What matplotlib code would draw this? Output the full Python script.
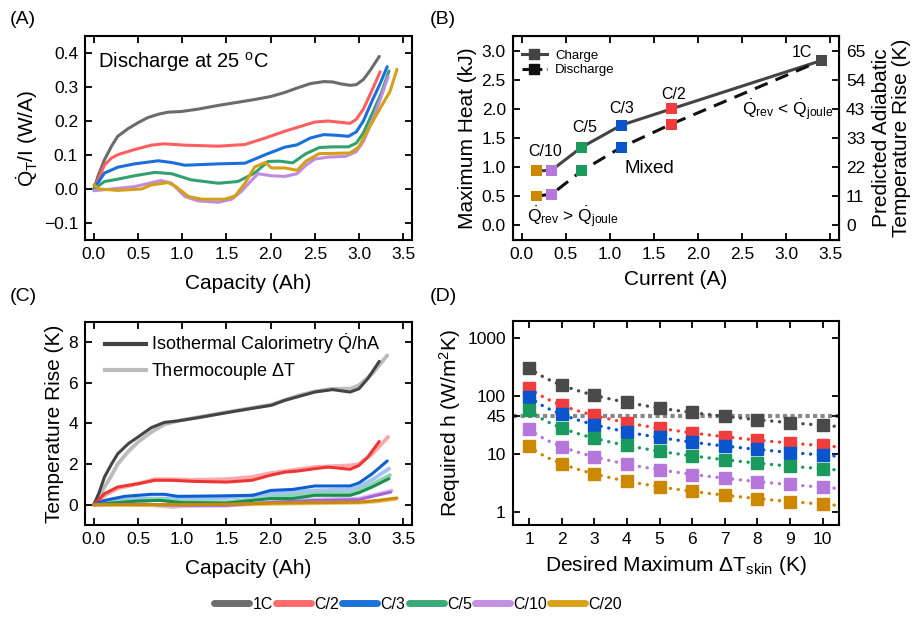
import numpy as np
import matplotlib
matplotlib.use("Agg")
import matplotlib.pyplot as plt
from matplotlib.lines import Line2D

plt.rcParams['font.family'] = ['Liberation Sans', 'DejaVu Sans']
plt.rcParams['mathtext.fontset'] = 'custom'
plt.rcParams['mathtext.rm'] = 'Liberation Sans'
plt.rcParams['mathtext.it'] = 'Liberation Sans:italic'
plt.rcParams['mathtext.bf'] = 'Liberation Sans:bold'
plt.rcParams['axes.unicode_minus'] = True

# ---------------- DATA ----------------
rates = ["1C", "C/2", "C/3", "C/5", "C/10", "C/20"]
legend_colors = ["#6e6e6e", "#ff6b6b", "#1a74d6", "#3aaa78", "#c391e0", "#daa21c"]
mark_colors = ["#4a4a4a", "#f03c3c", "#0a55cc", "#1a9a5c", "#b577dc", "#cc8800"]
lightA = ["#6b6b6b", "#ff5f5f", "#1a6fdb", "#33a070", "#c08be0", "#d4a017"]

# Panel A: Q_T/I vs capacity
a_1c_x = [0.0, 0.05, 0.12, 0.2, 0.27, 0.39, 0.5, 0.61, 0.73, 0.84, 0.99, 1.18, 1.41, 1.6, 1.79, 2.0, 2.16, 2.3, 2.45, 2.6, 2.7, 2.8, 2.9, 2.97, 3.05, 3.13, 3.23]
a_1c_y = [0.0, 0.04, 0.086, 0.126, 0.155, 0.178, 0.195, 0.21, 0.22, 0.226, 0.228, 0.235, 0.246, 0.254, 0.262, 0.272, 0.284, 0.297, 0.31, 0.316, 0.315, 0.309, 0.305, 0.307, 0.322, 0.35, 0.39]
a_c2_x = [0.02, 0.12, 0.2, 0.27, 0.46, 0.65, 0.8, 1.03, 1.41, 1.71, 1.94, 2.16, 2.35, 2.5, 2.65, 2.8, 2.9, 2.97, 3.05, 3.13, 3.24]
a_c2_y = [0.01, 0.071, 0.091, 0.101, 0.116, 0.129, 0.133, 0.129, 0.126, 0.131, 0.15, 0.17, 0.185, 0.197, 0.2, 0.196, 0.193, 0.205, 0.235, 0.28, 0.345]
a_c3_x = [0.0, 0.12, 0.27, 0.46, 0.73, 0.88, 1.03, 1.41, 1.71, 1.94, 2.16, 2.3, 2.45, 2.6, 2.75, 2.88, 2.97, 3.05, 3.15, 3.24, 3.32]
a_c3_y = [0.0, 0.047, 0.064, 0.074, 0.083, 0.078, 0.07, 0.074, 0.076, 0.101, 0.123, 0.13, 0.15, 0.16, 0.158, 0.155, 0.168, 0.2, 0.26, 0.31, 0.36]
a_c5_x = [0.0, 0.12, 0.27, 0.46, 0.69, 0.88, 1.1, 1.41, 1.63, 1.82, 1.97, 2.1, 2.25, 2.4, 2.55, 2.7, 2.88, 2.97, 3.05, 3.15, 3.25, 3.34]
a_c5_y = [0.0, 0.022, 0.029, 0.039, 0.049, 0.045, 0.027, 0.017, 0.022, 0.047, 0.081, 0.082, 0.077, 0.104, 0.122, 0.124, 0.124, 0.135, 0.165, 0.222, 0.28, 0.347]
a_c10_x = [0.0, 0.12, 0.46, 0.76, 0.88, 1.03, 1.18, 1.41, 1.56, 1.67, 1.79, 1.86, 2.01, 2.16, 2.3, 2.4, 2.5, 2.65, 2.85, 2.97, 3.05, 3.15, 3.25, 3.33]
a_c10_y = [-0.005, -0.002, 0.007, 0.025, 0.017, -0.022, -0.035, -0.039, -0.03, -0.007, 0.027, 0.045, 0.039, 0.037, 0.045, 0.07, 0.088, 0.094, 0.096, 0.11, 0.14, 0.2, 0.27, 0.331]
a_c20_x = [0.0, 0.06, 0.27, 0.54, 0.65, 0.84, 0.93, 1.07, 1.22, 1.48, 1.6, 1.71, 1.82, 1.94, 2.01, 2.16, 2.3, 2.4, 2.55, 2.9, 3.0, 3.1, 3.25, 3.35, 3.43]
a_c20_y = [0.012, 0.0, -0.004, 0.0, 0.012, 0.019, 0.007, -0.022, -0.03, -0.03, -0.02, 0.017, 0.065, 0.078, 0.062, 0.062, 0.055, 0.082, 0.104, 0.106, 0.124, 0.173, 0.242, 0.286, 0.352]

# Panel B: maximum heat vs current
b_current = [0.17, 0.34, 0.68, 1.13, 1.70, 3.40]
b_charge = [0.935, 0.947, 1.34, 1.72, 2.0, 2.83]
b_discharge = [0.505, 0.534, 0.935, 1.34, 1.74, 2.83]
b_labels = ["C/20", "C/10", "C/5", "C/3", "C/2", "1C"]
b_right_ticks = ["0", "11", "22", "33", "43", "54", "65"]

# Panel C: temperature rise vs capacity (calorimetry, thermocouple)
c_1c_x = [0.0, 0.06, 0.12, 0.2, 0.27, 0.39, 0.5, 0.65, 0.8, 0.95, 1.18, 1.6, 2.01, 2.16, 2.3, 2.5, 2.7, 2.9, 3.0, 3.1, 3.23]
c_1c_cal = [0.0, 0.6, 1.36, 2.0, 2.5, 3.0, 3.33, 3.79, 4.05, 4.12, 4.28, 4.6, 4.89, 5.13, 5.3, 5.54, 5.66, 5.54, 5.7, 6.2, 7.05]
c_1c_tx = [0.0, 0.06, 0.12, 0.2, 0.27, 0.39, 0.5, 0.65, 0.8, 0.95, 1.18, 1.6, 2.01, 2.16, 2.3, 2.5, 2.7, 2.9, 3.0, 3.15, 3.32]
c_1c_tc = [0.0, 0.35, 0.87, 1.44, 2.0, 2.62, 3.08, 3.57, 3.95, 4.12, 4.3, 4.62, 4.92, 5.15, 5.35, 5.57, 5.7, 5.7, 5.87, 6.44, 7.34]
c_c2_x = [0.0, 0.12, 0.27, 0.5, 0.69, 0.88, 1.1, 1.5, 1.79, 2.0, 2.16, 2.3, 2.5, 2.65, 2.9, 3.0, 3.1, 3.23]
c_c2_cal = [0.0, 0.54, 0.87, 1.03, 1.2, 1.2, 1.15, 1.11, 1.2, 1.45, 1.6, 1.65, 1.77, 1.85, 1.74, 1.93, 2.34, 3.11]
c_c2_tx = [0.0, 0.12, 0.27, 0.5, 0.69, 0.88, 1.1, 1.5, 1.79, 2.0, 2.5, 2.9, 3.0, 3.15, 3.33]
c_c2_tc = [0.0, 0.45, 0.8, 1.03, 1.25, 1.25, 1.22, 1.25, 1.36, 1.55, 1.85, 1.93, 2.0, 2.5, 3.33]
c_c3_x = [0.0, 0.12, 0.35, 0.65, 0.8, 0.95, 1.4, 1.8, 2.0, 2.25, 2.5, 2.9, 3.0, 3.15, 3.32]
c_c3_cal = [0.0, 0.21, 0.41, 0.51, 0.51, 0.41, 0.43, 0.46, 0.7, 0.75, 0.92, 0.92, 1.07, 1.52, 2.15]
c_c3_tx = [0.0, 0.1, 0.5, 1.0, 1.5, 2.0, 2.5, 2.9, 3.0, 3.15, 3.34]
c_c3_tc = [0.0, 0.12, 0.3, 0.3, 0.33, 0.54, 0.7, 0.74, 0.87, 1.23, 1.77]
c_c5_x = [0.0, 0.2, 0.5, 0.75, 1.0, 1.5, 2.0, 2.25, 2.5, 2.9, 3.0, 3.15, 3.34]
c_c5_cal = [0.0, 0.08, 0.18, 0.21, 0.1, 0.08, 0.3, 0.3, 0.46, 0.46, 0.59, 0.87, 1.28]
c_c5_tx = [0.0, 0.2, 0.5, 0.75, 1.0, 1.5, 2.0, 2.5, 2.9, 3.0, 3.15, 3.35]
c_c5_tc = [0.0, 0.1, 0.2, 0.24, 0.14, 0.12, 0.36, 0.55, 0.56, 0.7, 1.0, 1.45]
c_c10_x = [0.0, 0.5, 1.0, 1.5, 2.0, 2.5, 3.0, 3.2, 3.36]
c_c10_cal = [0.0, 0.02, -0.03, -0.03, 0.11, 0.21, 0.25, 0.46, 0.62]
c_c10_tx = [0.0, 0.5, 0.9, 1.0, 1.5, 2.0, 2.5, 3.0, 3.2, 3.37]
c_c10_tc = [0.0, 0.05, -0.12, -0.06, -0.05, 0.12, 0.25, 0.3, 0.5, 0.7]
c_c20_x = [0.0, 0.5, 1.0, 1.5, 2.0, 2.5, 3.0, 3.2, 3.43]
c_c20_cal = [0.0, 0.0, 0.0, 0.02, 0.07, 0.1, 0.12, 0.2, 0.33]
c_c20_tx = [0.0, 0.5, 1.0, 1.5, 2.0, 2.5, 3.0, 3.2, 3.42]
c_c20_tc = [0.0, -0.02, -0.03, 0.0, 0.04, 0.07, 0.1, 0.16, 0.28]

# Panel D: required h vs desired max dT_skin
d_dt = [1, 2, 3, 4, 5, 6, 7, 8, 9, 10]
d_1c = [311, 156, 103, 78, 62, 52.5, 45, 38.6, 34.7, 31.6]
d_c2 = [140, 69.5, 46.5, 34.7, 28, 23, 19.6, 17.4, 15.5, 14.1]
d_c3 = [98, 48.4, 32, 23.9, 19.4, 15.9, 13.7, 12, 10.6, 9.7]
d_c5 = [56.8, 28, 18.8, 14.1, 11.2, 9.3, 7.8, 7.0, 6.2, 5.5]
d_c10 = [27, 13.3, 9.0, 6.7, 5.3, 4.4, 3.8, 3.3, 2.97, 2.67]
d_c20 = [13.5, 6.8, 4.55, 3.4, 2.7, 2.25, 1.94, 1.68, 1.49, 1.36]
d_limit = 45

# ---------------- FIGURE ----------------
fig = plt.figure(figsize=(9.21, 6.17), dpi=100)
TICK_FS = 12.5
LAB_FS = 15

def style(ax, right=True):
    ax.tick_params(direction='in', top=True, right=right, length=5, width=1.3,
                   labelsize=TICK_FS, pad=5)
    for s in ax.spines.values():
        s.set_linewidth(1.5)

axA = fig.add_axes([0.0923, 0.611, 0.355, 0.3306])
axB = fig.add_axes([0.5567, 0.611, 0.3543, 0.3306])
axC = fig.add_axes([0.0923, 0.1491, 0.355, 0.3295])
axD = fig.add_axes([0.5567, 0.1491, 0.3543, 0.3306])

xt = np.arange(0, 3.51, 0.5)
xtl = [f"{v:.1f}" for v in xt]

# Panel A
a_sets = [(a_1c_x, a_1c_y), (a_c2_x, a_c2_y), (a_c3_x, a_c3_y),
          (a_c5_x, a_c5_y), (a_c10_x, a_c10_y), (a_c20_x, a_c20_y)]
for (xx, yy), c in zip(a_sets, lightA):
    axA.plot(xx, yy, color=c, lw=2.2, solid_capstyle='round', solid_joinstyle='round')
axA.set_xlim(-0.1, 3.6)
axA.set_ylim(-0.15, 0.45)
axA.set_xticks(xt)
axA.set_xticklabels(xtl)
axA.set_yticks([-0.1, 0.0, 0.1, 0.2, 0.3, 0.4])
axA.set_yticklabels(["\u22120.1", "0.0", "0.1", "0.2", "0.3", "0.4"])
axA.set_xlabel("Capacity (Ah)", fontsize=LAB_FS, labelpad=9)
axA.set_ylabel(r"$\dot{\mathrm{Q}}_{\mathrm{T}}$/I (W/A)", fontsize=LAB_FS, labelpad=3)
axA.text(0.045, 0.375, r"Discharge at 25 $^{\mathrm{o}}$C", fontsize=14.5, va='center', ha='left')
style(axA)

# Panel B
axB.plot(b_current, b_charge, color="#444444", lw=2.2, zorder=2)
axB.plot(b_current, b_discharge, color="#111111", lw=2.2, dashes=(4.5, 2.8), zorder=2)
axB.scatter(b_current, b_charge, marker='s', s=62, c=mark_colors[::-1], zorder=3, linewidths=0)
axB.scatter(b_current, b_discharge, marker='s', s=62, c=mark_colors[::-1], zorder=3, linewidths=0)
label_pos = {"C/10": (0.27, 1.27), "C/5": (0.72, 1.68), "C/3": (1.13, 2.0), "C/2": (1.72, 2.24), "1C": (3.18, 2.97)}
for lab in b_labels:
    if lab in label_pos:
        lx, ly = label_pos[lab]
        axB.text(lx, ly, lab, fontsize=11.5, ha='center', va='center')
axB.text(1.45, 0.98, "Mixed", fontsize=13.5, ha='center', va='center')
axB.text(3.02, 1.98, r"$\dot{\mathrm{Q}}_{\mathrm{rev}}$ < $\dot{\mathrm{Q}}_{\mathrm{joule}}$", fontsize=12.5, ha='center', va='center')
axB.text(0.58, 0.15, r"$\dot{\mathrm{Q}}_{\mathrm{rev}}$ > $\dot{\mathrm{Q}}_{\mathrm{joule}}$", fontsize=12.5, ha='center', va='center')
axB.set_xlim(-0.1, 3.6)
axB.set_ylim(-0.25, 3.25)
axB.set_xticks(xt)
axB.set_xticklabels(xtl)
yt = np.arange(0, 3.01, 0.5)
axB.set_yticks(yt)
axB.set_yticklabels([f"{v:.1f}" for v in yt])
axB.set_xlabel("Current (A)", fontsize=LAB_FS, labelpad=6)
axB.set_ylabel("Maximum Heat (kJ)", fontsize=LAB_FS, labelpad=3)
style(axB, right=False)
axB2 = axB.twinx()
axB2.set_ylim(axB.get_ylim())
axB2.set_yticks(yt)
axB2.set_yticklabels(b_right_ticks)
axB2.tick_params(direction='in', length=5, width=1.3, labelsize=TICK_FS, pad=5)
axB2.set_ylabel("Predicted Adiabatic\nTemperature Rise (K)", fontsize=LAB_FS, labelpad=5,
                linespacing=1.05)
hB = [Line2D([], [], color="#444444", lw=2.2, marker='s', markersize=6.5),
      Line2D([], [], color="#111111", lw=2.2, marker='s', markersize=6.5, dashes=(2.5, 1.5))]
axB.legend(hB, ["Charge", "Discharge"], loc='upper left', frameon=False, fontsize=9.5,
           handlelength=1.9, handletextpad=0.6, labelspacing=0.2, borderaxespad=0.3,
           bbox_to_anchor=(0.0, 0.98))

# Panel C
c_sets = [(c_1c_x, c_1c_cal, c_1c_tx, c_1c_tc), (c_c2_x, c_c2_cal, c_c2_tx, c_c2_tc),
          (c_c3_x, c_c3_cal, c_c3_tx, c_c3_tc), (c_c5_x, c_c5_cal, c_c5_tx, c_c5_tc),
          (c_c10_x, c_c10_cal, c_c10_tx, c_c10_tc), (c_c20_x, c_c20_cal, c_c20_tx, c_c20_tc)]
c_dark = ["#444444", "#ee3535", "#0f5fd0", "#1a9050", "#a565d8", "#c98a05"]
c_light = ["#bcbcbc", "#f8aaaa", "#9fc5f2", "#92d2b2", "#dcbcf2", "#ebc675"]
for (xc, yc, xtt, ytt), cd, cl in zip(c_sets, c_dark, c_light):
    axC.plot(xtt, ytt, color=cl, lw=2.8, zorder=2, solid_capstyle='round', solid_joinstyle='round')
for (xc, yc, xtt, ytt), cd, cl in zip(c_sets, c_dark, c_light):
    axC.plot(xc, yc, color=cd, lw=2.2, zorder=3, solid_capstyle='round', solid_joinstyle='round')
axC.set_xlim(-0.1, 3.6)
axC.set_ylim(-1, 9)
axC.set_xticks(xt)
axC.set_xticklabels(xtl)
axC.set_yticks([0, 2, 4, 6, 8])
axC.set_xlabel("Capacity (Ah)", fontsize=LAB_FS, labelpad=9)
axC.set_ylabel("Temperature Rise (K)", fontsize=LAB_FS, labelpad=3)
style(axC)
hC = [Line2D([], [], color="#444444", lw=3), Line2D([], [], color="#bcbcbc", lw=3)]
axC.legend(hC, [r"Isothermal Calorimetry $\dot{\mathrm{Q}}$/hA", r"Thermocouple $\Delta$T"],
           loc='upper left', frameon=False, fontsize=13, handlelength=2.3,
           handletextpad=0.3, labelspacing=0.25, bbox_to_anchor=(0.01, 1.03))

# Panel D
d_sets = [d_1c, d_c2, d_c3, d_c5, d_c10, d_c20]
dtx = np.array(d_dt, dtype=float)
xfit = np.linspace(1, 10.5, 200)
axD.axhline(d_limit, color="#888888", lw=3, ls=(0, (1, 0.8)), zorder=1)
for vals, c in zip(d_sets, mark_colors):
    b, a0 = np.polyfit(np.log(dtx), np.log(vals), 1)
    axD.plot(xfit, np.exp(a0 + b * np.log(xfit)), color=c, lw=2.4, ls=(0, (0.05, 2.3)),
             dash_capstyle='round', zorder=2)
    axD.plot(d_dt, vals, ls='none', marker='s', markersize=8, color=c, zorder=3)
axD.set_yscale('log')
axD.set_xlim(0.5, 10.5)
axD.set_ylim(0.59, 2000)
axD.set_xticks(d_dt)
axD.set_yticks([1, 10, 45, 100, 1000])
axD.set_yticklabels(["1", "10", "45", "100", "1000"])
axD.minorticks_off()
axD.set_xlabel(r"Desired Maximum $\Delta$T$_{\mathrm{skin}}$ (K)", fontsize=LAB_FS, labelpad=5)
axD.set_ylabel(r"Required h (W/m$^{2}$K)", fontsize=LAB_FS, labelpad=3)
style(axD)

# Panel labels
for lab, x, y in [("(A)", 0.011, 0.969), ("(B)", 0.467, 0.969), ("(C)", 0.011, 0.52), ("(D)", 0.467, 0.52)]:
    fig.text(x, y, lab, fontsize=14, ha='left', va='center')

# Bottom legend
hL = [Line2D([], [], color=c, lw=5, solid_capstyle='round') for c in legend_colors]
fig.legend(hL, rates, loc='center', bbox_to_anchor=(0.454, 0.021), ncol=6, frameon=False,
           fontsize=11.5, handlelength=2.2, handletextpad=0.2, columnspacing=0.2)

fig.savefig("out.png", dpi=100)
